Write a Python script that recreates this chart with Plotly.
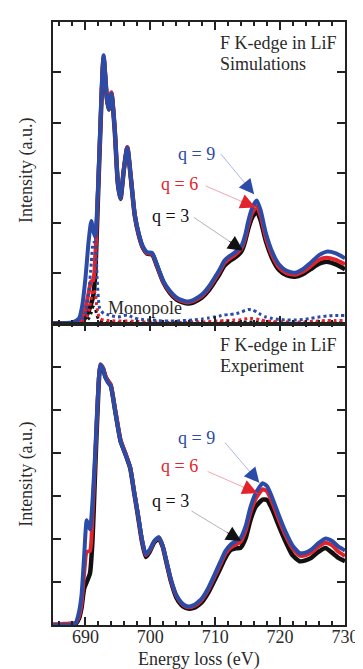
import plotly.graph_objects as go
from plotly.subplots import make_subplots

# ---------------- data ----------------
sim_x = [685, 688, 689, 689.5, 690, 690.5, 690.9, 691.2, 691.5, 691.8, 692.2, 692.8, 693.3, 693.6,
         694.0, 694.5, 695.0, 695.4, 695.9, 696.45, 697.0, 697.6, 698.2, 698.8, 699.5, 700.3, 701.0,
         702.0, 703.0, 704.0, 705.0, 705.7, 706.5, 707.3, 708.0, 709.0, 709.9, 710.7, 711.4, 712.2,
         712.9, 713.6, 714.1, 714.6, 715.1, 715.7, 716.4, 717.0, 717.8, 718.8, 719.8, 721.0, 722.3,
         723.5, 724.7, 726.0, 727.2, 728.5, 730]
sim_q9 = [0.00, 0.02, 0.10, 0.35, 0.90, 1.65, 2.04, 1.85, 1.72, 2.30, 3.60, 5.34, 4.50, 4.26,
          4.57, 3.90, 2.80, 2.49, 3.05, 3.50, 2.90, 2.17, 1.80, 1.55, 1.42, 1.40, 1.18,
          0.85, 0.65, 0.52, 0.46, 0.44, 0.46, 0.52, 0.58, 0.73, 0.91, 1.08, 1.25, 1.34,
          1.40, 1.48, 1.56, 1.75, 2.04, 2.30, 2.45, 2.25, 1.80, 1.42, 1.18, 1.05, 1.01,
          1.08, 1.21, 1.36, 1.43, 1.40, 1.30]
sim_q6 = [0.00, 0.01, 0.04, 0.10, 0.30, 0.62, 0.84, 0.86, 1.30, 2.20, 3.55, 5.30, 4.50, 4.28,
          4.60, 3.90, 2.80, 2.49, 3.05, 3.51, 2.90, 2.16, 1.78, 1.53, 1.40, 1.38, 1.16,
          0.83, 0.63, 0.50, 0.44, 0.42, 0.44, 0.49, 0.55, 0.70, 0.87, 1.04, 1.20, 1.29,
          1.35, 1.43, 1.51, 1.69, 1.96, 2.20, 2.33, 2.14, 1.71, 1.35, 1.12, 1.00, 0.97,
          1.03, 1.14, 1.27, 1.31, 1.27, 1.18]
sim_q3 = [0.00, 0.00, 0.02, 0.05, 0.12, 0.25, 0.40, 0.55, 0.95, 2.00, 3.50, 5.28, 4.48, 4.26,
          4.58, 3.88, 2.78, 2.48, 3.04, 3.50, 2.89, 2.15, 1.77, 1.52, 1.39, 1.37, 1.15,
          0.82, 0.61, 0.48, 0.42, 0.40, 0.41, 0.46, 0.52, 0.66, 0.83, 0.99, 1.15, 1.24,
          1.30, 1.37, 1.45, 1.63, 1.89, 2.11, 2.23, 2.05, 1.64, 1.29, 1.07, 0.96, 0.93,
          0.98, 1.08, 1.19, 1.23, 1.18, 1.08]
mono_q9 = [0.00, 0.01, 0.03, 0.08, 0.20, 0.60, 1.20, 1.60, 1.62, 0.90, 0.30, 0.20, 0.18, 0.17,
           0.15, 0.14, 0.13, 0.14, 0.16, 0.17, 0.14, 0.11, 0.09, 0.08, 0.07, 0.07, 0.06,
           0.05, 0.05, 0.05, 0.06, 0.06, 0.07, 0.08, 0.09, 0.11, 0.13, 0.15, 0.17, 0.18,
           0.19, 0.21, 0.23, 0.26, 0.28, 0.27, 0.23, 0.18, 0.13, 0.10, 0.08, 0.07, 0.07,
           0.08, 0.10, 0.13, 0.15, 0.16, 0.16]
mono_q6 = [0.00, 0.00, 0.01, 0.03, 0.08, 0.25, 0.50, 0.68, 0.60, 0.30, 0.10, 0.07, 0.06, 0.06,
           0.06, 0.05, 0.05, 0.05, 0.05, 0.05, 0.05, 0.04, 0.04, 0.03, 0.03, 0.03, 0.03,
           0.02, 0.02, 0.02, 0.02, 0.02, 0.03, 0.03, 0.03, 0.04, 0.05, 0.05, 0.06, 0.06,
           0.07, 0.07, 0.08, 0.09, 0.10, 0.10, 0.09, 0.07, 0.05, 0.04, 0.03, 0.03, 0.03,
           0.03, 0.04, 0.05, 0.06, 0.06, 0.06]
mono_q3 = [0.00, 0.00, 0.00, 0.01, 0.03, 0.10, 0.22, 0.33, 0.30, 0.15, 0.05, 0.03, 0.02, 0.02,
           0.02, 0.02, 0.02, 0.02, 0.02, 0.02, 0.02, 0.02, 0.01, 0.01, 0.01, 0.01, 0.01,
           0.01, 0.01, 0.01, 0.01, 0.01, 0.01, 0.01, 0.01, 0.01, 0.02, 0.02, 0.02, 0.02,
           0.02, 0.02, 0.03, 0.03, 0.03, 0.03, 0.03, 0.03, 0.02, 0.02, 0.01, 0.01, 0.01,
           0.01, 0.01, 0.02, 0.02, 0.02, 0.02]

exp_x = [685, 686, 687, 688, 688.5, 689, 689.4, 689.8, 690.2, 690.7, 691.1, 691.5, 691.9, 692.3,
         692.7, 693.1, 693.5, 693.9, 694.6, 695.4, 696.2, 696.9, 697.5, 698.1, 698.7, 699.3, 699.9,
         700.6, 701.3, 701.9, 702.5, 703.2, 704.0, 704.8, 705.4, 706.0, 706.8, 707.5, 708.0, 709.0,
         709.9, 710.8, 711.6, 712.4, 713.2, 713.9, 714.7, 715.4, 716.2, 717.3, 718.0, 718.8, 719.8,
         720.8, 721.9, 723.0, 723.9, 724.8, 725.9, 727.0, 728.0, 729.0, 730]
exp_q9 = [0.00, 0.00, 0.00, 0.00, 0.05, 0.30, 0.70, 1.60, 2.43, 2.22, 2.90, 4.00, 5.30, 6.05,
          5.95, 5.74, 5.62, 5.55, 4.95, 4.27, 3.95, 3.65, 3.10, 2.57, 2.00, 1.64, 1.75,
          1.95, 2.04, 1.85, 1.48, 1.05, 0.70, 0.52, 0.45, 0.43, 0.47, 0.55, 0.63, 0.88,
          1.17, 1.47, 1.72, 1.87, 1.95, 2.02, 2.30, 2.72, 3.05, 3.29, 3.22, 2.95, 2.55,
          2.18, 1.85, 1.67, 1.68, 1.75, 1.90, 2.01, 1.95, 1.82, 1.73]
exp_q6 = [0.02, 0.02, 0.03, 0.04, 0.05, 0.20, 0.50, 1.20, 1.70, 1.72, 2.60, 3.90, 5.25, 6.05,
          5.98, 5.78, 5.66, 5.58, 4.98, 4.30, 3.97, 3.66, 3.10, 2.56, 1.98, 1.62, 1.73,
          1.94, 2.03, 1.84, 1.47, 1.03, 0.68, 0.50, 0.43, 0.41, 0.45, 0.52, 0.60, 0.84,
          1.12, 1.41, 1.66, 1.80, 1.87, 1.93, 2.20, 2.60, 2.92, 3.15, 3.10, 2.84, 2.45,
          2.09, 1.78, 1.61, 1.62, 1.68, 1.82, 1.91, 1.85, 1.70, 1.60]
exp_q3 = [0.00, 0.00, 0.00, 0.00, 0.03, 0.15, 0.40, 0.85, 1.00, 1.20, 2.00, 3.60, 5.10, 6.00,
          5.95, 5.75, 5.66, 5.56, 4.96, 4.28, 3.95, 3.64, 3.08, 2.53, 1.95, 1.58, 1.70,
          1.92, 2.01, 1.82, 1.44, 1.00, 0.64, 0.46, 0.40, 0.38, 0.40, 0.47, 0.54, 0.77,
          1.04, 1.32, 1.57, 1.74, 1.78, 1.79, 2.02, 2.42, 2.74, 2.91, 2.90, 2.68, 2.30,
          1.95, 1.62, 1.48, 1.50, 1.56, 1.70, 1.79, 1.68, 1.56, 1.48]

x_tickvals = [690, 700, 710, 720, 730]
x_ticktext = ["690", "700", "710", "720", "730"]

# ---------------- style ----------------
BLUE = "#2B4BA7"
RED = "#E2232B"
BLACK = "#111111"
BLUE_L = "#a9b8e6"
RED_L = "#f4a7a9"
BLACK_L = "#b4b4b4"
TXT = "#2a2a2a"
FONT = "Liberation Serif"

fig = make_subplots(rows=2, cols=1, shared_xaxes=True, vertical_spacing=0)

# simulation panel
fig.add_trace(go.Scatter(x=sim_x, y=sim_q3, mode="lines", line=dict(color=BLACK, width=4.5, shape="spline", smoothing=0.6)), row=1, col=1)
fig.add_trace(go.Scatter(x=sim_x, y=sim_q6, mode="lines", line=dict(color=RED, width=4, shape="spline", smoothing=0.6)), row=1, col=1)
fig.add_trace(go.Scatter(x=sim_x, y=sim_q9, mode="lines", line=dict(color=BLUE, width=4, shape="spline", smoothing=0.6)), row=1, col=1)
fig.add_trace(go.Scatter(x=sim_x, y=mono_q3, mode="lines", line=dict(color=BLACK, width=3, dash="dot", shape="spline", smoothing=0.6)), row=1, col=1)
fig.add_trace(go.Scatter(x=sim_x, y=mono_q6, mode="lines", line=dict(color=RED, width=3, dash="dot", shape="spline", smoothing=0.6)), row=1, col=1)
fig.add_trace(go.Scatter(x=sim_x, y=mono_q9, mode="lines", line=dict(color=BLUE, width=3, dash="dot", shape="spline", smoothing=0.6)), row=1, col=1)

# experiment panel
fig.add_trace(go.Scatter(x=exp_x, y=exp_q3, mode="lines", line=dict(color=BLACK, width=4.5, shape="spline", smoothing=0.5)), row=2, col=1)
fig.add_trace(go.Scatter(x=exp_x, y=exp_q6, mode="lines", line=dict(color=RED, width=4, shape="spline", smoothing=0.5)), row=2, col=1)
fig.add_trace(go.Scatter(x=exp_x, y=exp_q9, mode="lines", line=dict(color=BLUE, width=4, shape="spline", smoothing=0.5)), row=2, col=1)

axis_common = dict(showline=True, linecolor="#222", linewidth=1.5, mirror="ticks", ticks="inside",
                   tickcolor="#222", tickwidth=1.5, showgrid=False, zeroline=False)

fig.update_xaxes(range=[685, 730], tickvals=x_tickvals, ticktext=x_ticktext, ticklen=8,
                 minor=dict(dtick=2, tick0=0, ticklen=4, ticks="inside", tickcolor="#222", tickwidth=1.5),
                 **axis_common)
fig.update_xaxes(showticklabels=False, row=1, col=1)
fig.update_xaxes(showticklabels=True, tickfont=dict(family=FONT, size=18, color=TXT),
                 ticklabelstandoff=-5, row=2, col=1)

fig.update_yaxes(showticklabels=False, ticklen=8, dtick=1, tick0=0, **axis_common)
fig.update_yaxes(range=[0, 6], row=1, col=1)
fig.update_yaxes(range=[0, 7], row=2, col=1)

fig.update_layout(
    width=363, height=669,
    margin=dict(l=45, r=15, t=14, b=52),
    paper_bgcolor="white", plot_bgcolor="white",
    showlegend=False,
    font=dict(family=FONT, size=18, color=TXT),
)
fig.layout.yaxis.domain = [0.5, 1]
fig.layout.yaxis2.domain = [0, 0.5]

ann = []
def txt(x, y, s, color=TXT, xref="x", yref="y", **kw):
    d = dict(x=x, y=y, xref=xref, yref=yref, text=s, showarrow=False,
             font=dict(family=FONT, size=18, color=color), xanchor="left", yanchor="middle")
    d.update(kw)
    ann.append(d)

def arrow(x0, y0, x1, y1, color, light, xref="x", yref="y"):
    # faint shaft
    ann.append(dict(x=x1, y=y1, ax=x0, ay=y0, xref=xref, yref=yref, axref=xref, ayref=yref,
                    text="", showarrow=True, arrowhead=0, arrowwidth=1,
                    arrowcolor=light, standoff=0))
    # solid head
    hx = x1 - 0.3 * (x1 - x0)
    hy = y1 - 0.3 * (y1 - y0)
    ann.append(dict(x=x1, y=y1, ax=hx, ay=hy, xref=xref, yref=yref, axref=xref, ayref=yref,
                    text="", showarrow=True, arrowhead=2, arrowsize=3.0, arrowwidth=1.0,
                    arrowcolor=color, standoff=0))

# top panel text
txt(710.5, 5.59, "F K-edge in LiF")
txt(710.5, 5.17, "Simulations")
txt(704.0, 3.38, "q = 9", BLUE)
txt(701.3, 2.77, "q = 6", RED)
txt(699.9, 2.13, "q = 3", BLACK)
txt(693.2, 0.30, "Monopole")
arrow(710.7, 3.40, 716.0, 2.57, BLUE, BLUE_L)
arrow(708.3, 2.75, 716.2, 2.31, RED, RED_L)
arrow(706.5, 2.13, 714.3, 1.45, BLACK, BLACK_L)

# bottom panel text
txt(710.5, 6.50, "F K-edge in LiF", xref="x2", yref="y2")
txt(710.5, 6.01, "Experiment", xref="x2", yref="y2")
txt(703.9, 4.34, "q = 9", BLUE, xref="x2", yref="y2")
txt(701.3, 3.69, "q = 6", RED, xref="x2", yref="y2")
txt(699.9, 2.88, "q = 3", BLACK, xref="x2", yref="y2")
arrow(711.3, 4.27, 716.8, 3.30, BLUE, BLUE_L, xref="x2", yref="y2")
arrow(708.6, 3.58, 716.5, 3.06, RED, RED_L, xref="x2", yref="y2")
arrow(706.1, 2.67, 714.0, 1.95, BLACK, BLACK_L, xref="x2", yref="y2")

# axis titles
txt(-0.089, 0.753, "Intensity (a.u.)", xref="paper", yref="paper", textangle=-90, xanchor="center")
txt(-0.089, 0.249, "Intensity (a.u.)", xref="paper", yref="paper", textangle=-90, xanchor="center")
txt(0.5, -0.058, "Energy loss (eV)", xref="paper", yref="paper", xanchor="center")

fig.update_layout(annotations=ann)
fig.write_html("out.html")
